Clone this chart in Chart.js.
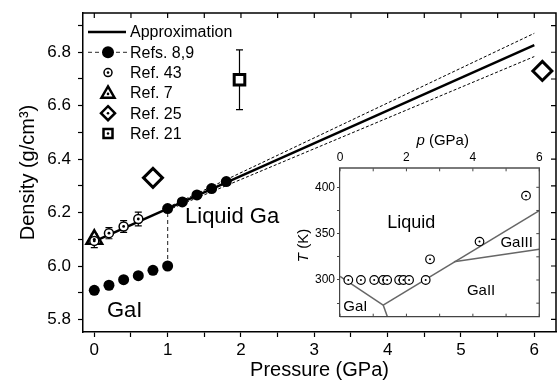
<!DOCTYPE html>
<html>
<head>
<meta charset="utf-8">
<script src="https://cdn.jsdelivr.net/npm/chart.js@4.4.1/dist/chart.umd.min.js"></script>
<style>
  html, body { margin: 0; padding: 0; background: #fff; }
  #wrap { position: relative; width: 557px; height: 388px; }
  #main { position: absolute; left: 0; top: 0; }
  #inset { position: absolute; left: 290px; top: 130px; }
</style>
</head>
<body>
<div id="wrap">
  <canvas id="main" width="557" height="388"></canvas>
  <canvas id="inset" width="265" height="200"></canvas>
</div>
<script>
// ---- main plot data: pressure (GPa) vs density (g/cm3)
const refs89P = [0, 0.2, 0.4, 0.6, 0.8, 1.0, 1.0, 1.2, 1.4, 1.6, 1.8]
const refs89D = [5.909, 5.928, 5.949, 5.964, 5.984, 6.000, 6.215, 6.240, 6.266, 6.290, 6.316]
const ref43P = [0, 0.2, 0.4, 0.6]
const ref43D = [6.094, 6.123, 6.148, 6.176]
const ref43Err = [0.025, 0.021, 0.022, 0.026]
const ref7P = [0]
const ref7D = [6.10]
const ref25P = [0.8, 6.11]
const ref25D = [6.33, 6.73]
const ref21P = [1.98]
const ref21D = [6.697]
const ref21Err = [0.112]
const approxP = [0, 6]
const approxD = [6.092, 6.827]
const bandP = [1, 6]
const bandHi = [6.219, 6.871]
const bandLo = [6.209, 6.784]

// ---- inset data: phase diagram p (GPa) vs T (K)
const meltP = [0.25, 0.63, 1.03, 1.30, 1.42, 1.78, 1.91, 2.08, 2.58, 2.71, 4.20, 5.60]
const meltT = [300, 300, 300, 300, 300, 300, 300, 300, 300, 322.3, 341.4, 391]
const gaILiqP = [0, 1.30]
const gaILiqT = [304, 273]
const gaIGaIIP = [1.30, 1.43]
const gaIGaIIT = [273, 260]
const gaIILiqP = [1.30, 6.0]
const gaIILiqT = [273, 374.8]
const gaIIGaIIIP = [3.43, 6.0]
const gaIIGaIIIT = [319.8, 333.1]

const FONT = "'Liberation Sans', Arial, sans-serif"
Chart.defaults.font.family = FONT
Chart.defaults.color = '#000'

const pts = (xs, ys) => xs.map((x, i) => ({ x: x, y: ys[i] }))
const isInt = v => Math.abs(v - Math.round(v)) < 1e-6
// keep the plot box exactly where layout.padding + afterFit put it
const noPad = s => { s.paddingLeft = 0; s.paddingRight = 0; s.paddingTop = 0; s.paddingBottom = 0 }

function marker(ctx, style, x, y, r, lw, fill) {
  ctx.save()
  ctx.beginPath()
  if (style === 'circle') ctx.arc(x, y, r, 0, Math.PI * 2)
  if (style === 'triangle') {
    ctx.moveTo(x, y - r)
    ctx.lineTo(x + r * 0.866, y + r * 0.5)
    ctx.lineTo(x - r * 0.866, y + r * 0.5)
    ctx.closePath()
  }
  if (style === 'diamond') {
    ctx.moveTo(x, y - r); ctx.lineTo(x + r, y); ctx.lineTo(x, y + r); ctx.lineTo(x - r, y); ctx.closePath()
  }
  if (style === 'square') ctx.rect(x - r, y - r, 2 * r, 2 * r)
  ctx.fillStyle = fill
  ctx.fill()
  if (lw > 0) { ctx.lineWidth = lw; ctx.strokeStyle = '#000'; ctx.stroke() }
  if (fill === '#fff') {
    ctx.beginPath(); ctx.arc(x, y, 1.3, 0, Math.PI * 2); ctx.fillStyle = '#000'; ctx.fill()
  }
  ctx.restore()
}

const errorBars = {
  id: 'errorBars',
  beforeDatasetsDraw(chart) {
    const ctx = chart.ctx, ys = chart.scales.y
    chart.data.datasets.forEach((ds, i) => {
      if (!ds.errorBars) return
      const meta = chart.getDatasetMeta(i)
      ctx.save()
      ctx.strokeStyle = '#000'
      ctx.lineWidth = 1.2
      meta.data.forEach((pt, j) => {
        const v = ds.data[j].y, e = ds.errorBars[j]
        const y1 = ys.getPixelForValue(v + e), y2 = ys.getPixelForValue(v - e)
        ctx.beginPath()
        ctx.moveTo(pt.x, y1); ctx.lineTo(pt.x, y2)
        ctx.moveTo(pt.x - 3.5, y1); ctx.lineTo(pt.x + 3.5, y1)
        ctx.moveTo(pt.x - 3.5, y2); ctx.lineTo(pt.x + 3.5, y2)
        ctx.stroke()
      })
      ctx.restore()
    })
  }
}

const mainDecor = {
  id: 'mainDecor',
  afterDraw(chart) {
    const ctx = chart.ctx, a = chart.chartArea, xs = chart.scales.x, ys = chart.scales.y
    ctx.save()
    // top and right frame with inward ticks
    ctx.strokeStyle = '#000'
    ctx.lineWidth = 1.5
    ctx.beginPath()
    ctx.moveTo(a.left, a.top); ctx.lineTo(a.right, a.top); ctx.lineTo(a.right, a.bottom)
    ctx.stroke()
    ctx.lineWidth = 1.2
    ctx.beginPath()
    xs.ticks.forEach(t => {
      const px = xs.getPixelForValue(t.value)
      ctx.moveTo(px, a.top); ctx.lineTo(px, a.top + 5)
    })
    ys.ticks.forEach(t => {
      const py = ys.getPixelForValue(t.value)
      ctx.moveTo(a.right, py); ctx.lineTo(a.right - 5, py)
    })
    ctx.stroke()

    // legend
    const rows = ['Approximation', 'Refs. 8,9', 'Ref. 43', 'Ref. 7', 'Ref. 25', 'Ref. 21']
    ctx.font = '16px ' + FONT
    ctx.textBaseline = 'middle'
    rows.forEach((txt, i) => {
      const y = 32 + i * 20.3
      ctx.fillStyle = '#000'
      ctx.fillText(txt, 130, y + 1)
      if (i === 0) {
        ctx.lineWidth = 2.5
        ctx.beginPath(); ctx.moveTo(88, y); ctx.lineTo(126, y); ctx.stroke()
      }
      if (i === 1) {
        ctx.lineWidth = 1.2
        ctx.strokeStyle = '#555'
        ctx.setLineDash([4, 3])
        ctx.beginPath(); ctx.moveTo(88, y); ctx.lineTo(128, y); ctx.stroke()
        ctx.setLineDash([])
        ctx.strokeStyle = '#000'
        marker(ctx, 'circle', 108, y, 6, 0, '#000')
      }
      if (i === 2) marker(ctx, 'circle', 108, y, 4, 1.5, '#fff')
      if (i === 3) marker(ctx, 'triangle', 108, y + 1, 7.5, 2.5, '#fff')
      if (i === 4) marker(ctx, 'diamond', 108, y, 7, 2.5, '#fff')
      if (i === 5) marker(ctx, 'square', 108, y, 4.5, 2.5, '#fff')
    })

    // phase labels
    ctx.fillStyle = '#000'
    ctx.textBaseline = 'alphabetic'
    ctx.font = '22px ' + FONT
    ctx.fillText('Liquid Ga', xs.getPixelForValue(1.237), ys.getPixelForValue(6.160))
    ctx.fillText('GaI', xs.getPixelForValue(0.173), ys.getPixelForValue(5.81))
    ctx.restore()
  }
}

new Chart(document.getElementById('main'), {
  type: 'scatter',
  data: {
    datasets: [
      { label: 'Ref. 21', data: pts(ref21P, ref21D), pointStyle: 'rect', pointRadius: 7.5,
        backgroundColor: '#fff', borderColor: '#000', borderWidth: 3, errorBars: ref21Err },
      { label: 'Ref. 25', data: pts(ref25P, ref25D), pointStyle: 'rectRot', pointRadius: 9.5,
        backgroundColor: '#fff', borderColor: '#000', borderWidth: 3 },
      { label: 'centers', data: pts(ref21P, ref21D).concat(pts(ref25P, ref25D), pts(ref43P, ref43D), pts(ref7P, ref7D)),
        pointRadius: 1.4, backgroundColor: '#000', borderWidth: 0 },
      { label: 'Ref. 43', data: pts(ref43P, ref43D), pointStyle: 'circle', pointRadius: 4.5,
        backgroundColor: '#fff', borderColor: '#000', borderWidth: 1.5, errorBars: ref43Err },
      { label: 'Ref. 7', data: pts(ref7P, ref7D), pointStyle: 'triangle', pointRadius: 9,
        backgroundColor: '#fff', borderColor: '#000', borderWidth: 2.5 },
      { label: 'Refs. 8,9', data: pts(refs89P, refs89D), pointStyle: 'circle', pointRadius: 5.5,
        pointBackgroundColor: '#000', pointBorderWidth: 0, showLine: true,
        borderColor: '#444', borderWidth: 1.2, borderDash: [4, 3],
        segment: { borderColor: c => c.p0.parsed.x === c.p1.parsed.x ? '#444' : 'rgba(0,0,0,0)' } },
      { label: 'Approximation', data: pts(approxP, approxD), showLine: true, pointRadius: 0,
        borderColor: '#000', borderWidth: 2.5 },
      { label: 'upper', data: pts(bandP, bandHi), showLine: true, pointRadius: 0,
        borderColor: '#000', borderWidth: 1, borderDash: [3, 2] },
      { label: 'lower', data: pts(bandP, bandLo), showLine: true, pointRadius: 0,
        borderColor: '#000', borderWidth: 1, borderDash: [3, 2] }
    ]
  },
  options: {
    responsive: false,
    animation: false,
    devicePixelRatio: 1,
    layout: { autoPadding: false, padding: { left: 12, top: 13, right: 1, bottom: 0 } },
    plugins: { legend: { display: false }, tooltip: { enabled: false } },
    scales: {
      x: {
        type: 'linear', min: -0.154, max: 6.296,
        border: { color: '#000', width: 1.5 },
        grid: { drawOnChartArea: false, color: '#000', tickLength: 5, tickWidth: 1.2 },
        ticks: { stepSize: 0.5, includeBounds: false, autoSkip: false, maxRotation: 0, padding: 3,
          font: { size: 17 }, callback: v => isInt(v) ? String(Math.round(v)) : '' },
        title: { display: true, text: 'Pressure (GPa)', font: { size: 20 }, padding: { top: 4, bottom: 6 } },
        afterFit: s => { s.height = 56; noPad(s) }
      },
      y: {
        type: 'linear', min: 5.753, max: 6.947,
        border: { color: '#000', width: 1.5 },
        grid: { drawOnChartArea: false, color: '#000', tickLength: 5, tickWidth: 1.2 },
        ticks: { stepSize: 0.1, includeBounds: false, autoSkip: false, padding: 7,
          font: { size: 17 }, callback: v => Math.round(v * 10) % 2 === 0 ? v.toFixed(1) : '' },
        title: { display: true, text: 'Density (g/cm³)', font: { size: 20 } },
        afterFit: s => { s.width = 71; noPad(s) }
      }
    }
  },
  plugins: [errorBars, mainDecor]
})

// ---- inset
const insetDecor = {
  id: 'insetDecor',
  afterDraw(chart) {
    const ctx = chart.ctx, a = chart.chartArea, xs = chart.scales.x, ys = chart.scales.y
    ctx.save()
    ctx.strokeStyle = '#444'
    ctx.lineWidth = 1.2
    ctx.beginPath()
    ctx.moveTo(a.left, a.bottom); ctx.lineTo(a.right, a.bottom); ctx.lineTo(a.right, a.top)
    ctx.stroke()
    ctx.lineWidth = 1
    ctx.beginPath()
    xs.ticks.forEach(t => {
      const px = xs.getPixelForValue(t.value)
      ctx.moveTo(px, a.top); ctx.lineTo(px, a.top + 3)
      ctx.moveTo(px, a.bottom); ctx.lineTo(px, a.bottom - 3)
    })
    ys.ticks.forEach(t => {
      const py = ys.getPixelForValue(t.value)
      ctx.moveTo(a.right, py); ctx.lineTo(a.right - 3, py)
    })
    ctx.stroke()

    // axis titles with italic symbols
    ctx.fillStyle = '#000'
    ctx.textBaseline = 'middle'
    const drawTitle = (sym, rest, cx, cy, rot) => {
      ctx.save()
      ctx.translate(cx, cy)
      ctx.rotate(rot)
      ctx.font = 'italic 15px ' + FONT
      const w1 = ctx.measureText(sym).width
      ctx.font = '15px ' + FONT
      const w2 = ctx.measureText(rest).width
      const x0 = -(w1 + w2) / 2
      ctx.font = 'italic 15px ' + FONT
      ctx.fillText(sym, x0, 0)
      ctx.font = '15px ' + FONT
      ctx.fillText(rest, x0 + w1, 0)
      ctx.restore()
    }
    drawTitle('p', ' (GPa)', (a.left + a.right) / 2 + 3, a.top - 27, 0)
    drawTitle('T', ' (K)', a.left - 36, (a.top + a.bottom) / 2 + 3, -Math.PI / 2)

    ctx.textBaseline = 'alphabetic'
    ctx.font = '18px ' + FONT
    ctx.fillText('Liquid', xs.getPixelForValue(1.42), ys.getPixelForValue(355.8))
    ctx.font = '15px ' + FONT
    ctx.fillText('GaIII', xs.getPixelForValue(4.83), ys.getPixelForValue(335.3))
    ctx.fillText('GaII', xs.getPixelForValue(3.82), ys.getPixelForValue(283.8))
    ctx.fillText('GaI', xs.getPixelForValue(0.10), ys.getPixelForValue(266.9))
    ctx.restore()
  }
}

const phaseLine = (xs, ys) => ({ data: pts(xs, ys), showLine: true, pointRadius: 0,
  borderColor: '#666', borderWidth: 1.5 })

new Chart(document.getElementById('inset'), {
  type: 'scatter',
  data: {
    datasets: [
      { label: 'centers', data: pts(meltP, meltT), pointRadius: 1, backgroundColor: '#000', borderWidth: 0 },
      { label: 'Ref. 43', data: pts(meltP, meltT), pointRadius: 4.3, backgroundColor: '#fff',
        borderColor: '#000', borderWidth: 1.2 },
      phaseLine(gaILiqP, gaILiqT),
      phaseLine(gaIGaIIP, gaIGaIIT),
      phaseLine(gaIILiqP, gaIILiqT),
      phaseLine(gaIIGaIIIP, gaIIGaIIIT)
    ]
  },
  options: {
    responsive: false,
    animation: false,
    devicePixelRatio: 1,
    layout: { autoPadding: false, padding: { left: 0, top: 0, right: 15.7, bottom: 13.3 } },
    plugins: { legend: { display: false }, tooltip: { enabled: false } },
    scales: {
      x: {
        type: 'linear', position: 'top', min: 0, max: 6,
        border: { color: '#7a7a7a', width: 2 },
        grid: { drawOnChartArea: false, drawTicks: false },
        ticks: { stepSize: 1, autoSkip: false, maxRotation: 0, padding: 3, font: { size: 12 },
          callback: v => v % 2 === 0 ? String(v) : '' },
        afterFit: s => { s.height = 38.3; noPad(s) }
      },
      y: {
        type: 'linear', min: 260.4, max: 420.5,
        border: { color: '#444', width: 1.2 },
        grid: { drawOnChartArea: false, color: '#444', tickLength: 3 },
        ticks: { stepSize: 25, includeBounds: false, autoSkip: false, padding: 2, font: { size: 12 },
          callback: v => v % 50 === 0 ? String(v) : '' },
        afterFit: s => { s.width = 50; noPad(s) }
      }
    }
  },
  plugins: [insetDecor]
})
</script>
</body>
</html>
